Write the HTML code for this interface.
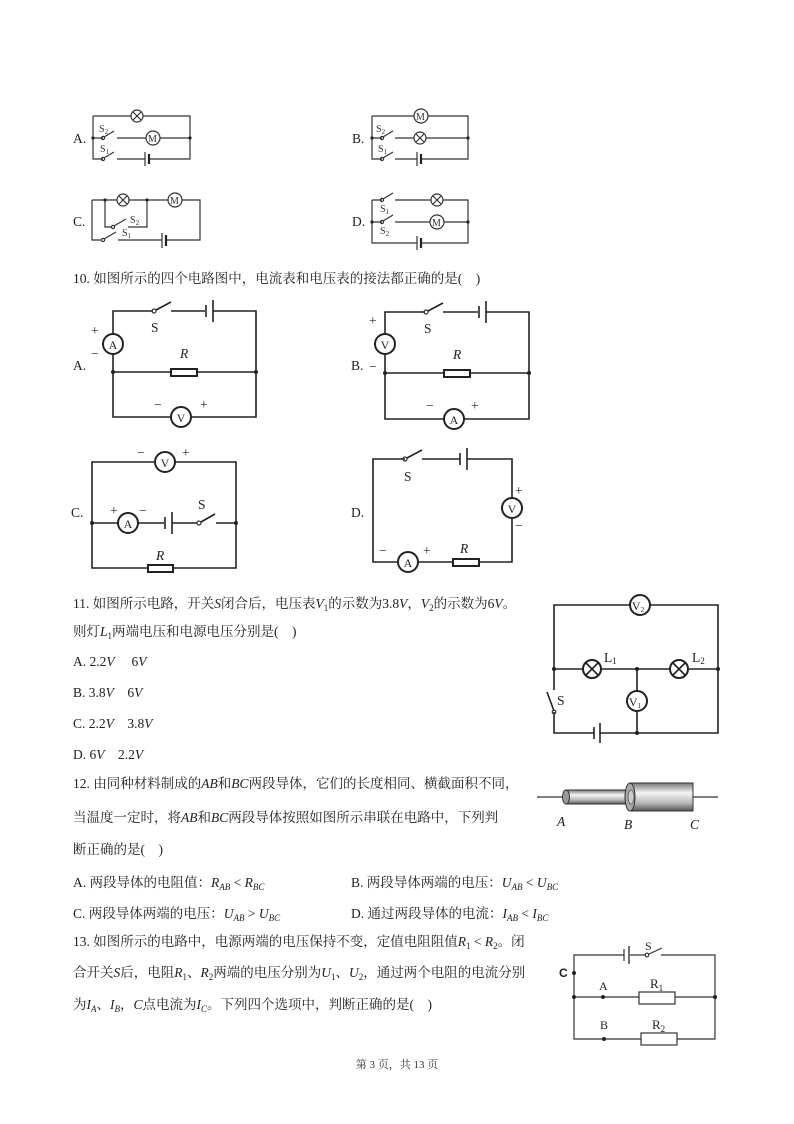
<!DOCTYPE html>
<html><head><meta charset="utf-8"><style>
html,body{margin:0;padding:0;background:#fff}
svg{display:block}
.t{font-family:"Liberation Serif","Noto Serif CJK SC","Noto Sans CJK SC",serif;font-size:13.5px;fill:#222;white-space:pre}
.i{font-style:italic}
.s{font-size:9px}
.w{fill:none;stroke:#333;stroke-width:1.2}
.wb{fill:none;stroke:#222;stroke-width:1.6}
.m{fill:#fff;stroke:#222;stroke-width:2}
.ml{font-family:"Liberation Serif",serif;font-size:12px;fill:#222;text-anchor:middle}
.sl{font-family:"Liberation Serif",serif;font-size:10px;fill:#333}
.d{fill:#222}
</style></head><body>
<svg width="794" height="1124" viewBox="0 0 794 1124" xmlns="http://www.w3.org/2000/svg" xml:space="preserve">
<!-- ===== Q9 options ===== -->
<g>
<text class="t" x="73" y="143">A.</text>
<path class="w" d="M93,116 H131 M143,116 H190 V159 H150 M93,116 V159 H103 M93,138 H103 M117,138 H146 M160,138 H190 M145,159 H117"/>
<line class="w" x1="145" y1="152" x2="145" y2="166"/><line x1="149" y1="154" x2="149" y2="164" stroke="#222" stroke-width="2.2"/>
<circle class="w" cx="137" cy="116" r="6"/><path class="w" d="M133,112 L141,120 M141,112 L133,120"/>
<circle class="w" cx="153" cy="138" r="7"/><text class="sl" x="148" y="142">M</text>
<circle class="w" cx="103" cy="138" r="1.6"/><line class="w" x1="104" y1="137" x2="114" y2="131"/>
<circle class="w" cx="103" cy="159" r="1.6"/><line class="w" x1="104" y1="158" x2="114" y2="152"/>
<text class="sl" x="99" y="132">S<tspan font-size="7" dy="2">2</tspan></text>
<text class="sl" x="100" y="152">S<tspan font-size="7" dy="2">1</tspan></text>
<circle class="d" cx="93" cy="138" r="1.6"/><circle class="d" cx="190" cy="138" r="1.6"/>
</g>
<g>
<text class="t" x="352" y="143">B.</text>
<path class="w" d="M372,116 H414 M428,116 H468 V159 H422 M372,116 V159 H382 M372,138 H382 M395,138 H414 M426,138 H468 M382,159 M395,159 H417"/>
<line class="w" x1="417" y1="152" x2="417" y2="166"/><line x1="421" y1="154" x2="421" y2="164" stroke="#222" stroke-width="2.2"/>
<circle class="w" cx="421" cy="116" r="7"/><text class="sl" x="416" y="120">M</text>
<circle class="w" cx="420" cy="138" r="6"/><path class="w" d="M416,134 L424,142 M424,134 L416,142"/>
<circle class="w" cx="382" cy="138" r="1.6"/><line class="w" x1="383" y1="137" x2="393" y2="131"/>
<circle class="w" cx="382" cy="159" r="1.6"/><line class="w" x1="383" y1="158" x2="393" y2="152"/>
<text class="sl" x="376" y="132">S<tspan font-size="7" dy="2">2</tspan></text>
<text class="sl" x="378" y="152">S<tspan font-size="7" dy="2">1</tspan></text>
<circle class="d" cx="372" cy="138" r="1.6"/><circle class="d" cx="468" cy="138" r="1.6"/>
</g>
<g>
<text class="t" x="73" y="226">C.</text>
<path class="w" d="M92,200 H117 M129,200 H168 M182,200 H200 V240 H167 M162,240 H118 M92,200 V240 H102 M105,200 V227 H112 M147,200 V227 H128"/>
<line class="w" x1="162" y1="233" x2="162" y2="248"/><line x1="166" y1="235" x2="166" y2="246" stroke="#222" stroke-width="2.2"/>
<circle class="w" cx="123" cy="200" r="6"/><path class="w" d="M119,196 L127,204 M127,196 L119,204"/>
<circle class="w" cx="175" cy="200" r="7"/><text class="sl" x="170" y="204">M</text>
<circle class="w" cx="113" cy="227" r="1.6"/><line class="w" x1="114" y1="226" x2="126" y2="219"/>
<circle class="w" cx="103" cy="240" r="1.6"/><line class="w" x1="104" y1="239" x2="116" y2="232"/>
<text class="sl" x="130" y="223">S<tspan font-size="7" dy="2">2</tspan></text>
<text class="sl" x="122" y="236">S<tspan font-size="7" dy="2">1</tspan></text>
<circle class="d" cx="105" cy="200" r="1.6"/><circle class="d" cx="147" cy="200" r="1.6"/>
</g>
<g>
<text class="t" x="352" y="226">D.</text>
<path class="w" d="M372,200 H382 M395,200 H431 M443,200 H468 V243 H422 M417,243 H372 V200 M372,222 H382 M395,222 H430 M444,222 H468"/>
<line class="w" x1="417" y1="236" x2="417" y2="250"/><line x1="421" y1="238" x2="421" y2="248" stroke="#222" stroke-width="2.2"/>
<circle class="w" cx="437" cy="200" r="6"/><path class="w" d="M433,196 L441,204 M441,196 L433,204"/>
<circle class="w" cx="437" cy="222" r="7"/><text class="sl" x="432" y="226">M</text>
<circle class="w" cx="382" cy="200" r="1.6"/><line class="w" x1="383" y1="199" x2="393" y2="193"/>
<circle class="w" cx="382" cy="222" r="1.6"/><line class="w" x1="383" y1="221" x2="393" y2="215"/>
<text class="sl" x="380" y="212">S<tspan font-size="7" dy="2">1</tspan></text>
<text class="sl" x="380" y="234">S<tspan font-size="7" dy="2">2</tspan></text>
<circle class="d" cx="372" cy="222" r="1.6"/><circle class="d" cx="468" cy="222" r="1.6"/>
</g>

<!-- ===== Q10 ===== -->
<text class="t" x="73" y="283">10. 如图所示的四个电路图中，电流表和电压表的接法都正确的是(    )</text>
<g>
<text class="t" x="73" y="370" font-size="12">A.</text>
<path class="wb" d="M113,334 V311 H153 M171,311 H205 M213,311 H256 V417 H192 M170,417 H113 V354 M113,372 H171 M197,372 H256"/>
<line class="wb" x1="206" y1="305" x2="206" y2="317"/><line x1="213" y1="300" x2="213" y2="322" stroke="#222" stroke-width="1.6"/>
<circle class="w" cx="154" cy="311" r="2"/><line class="wb" x1="156" y1="310" x2="171" y2="302"/>
<rect x="171" y="369" width="26" height="7" fill="#fff" stroke="#222" stroke-width="2"/>
<circle class="m" cx="113" cy="344" r="10"/><text class="ml" x="113" y="349">A</text>
<circle class="m" cx="181" cy="417" r="10"/><text class="ml" x="181" y="422">V</text>
<text class="t" x="91" y="335" font-size="15">+</text><text class="t" x="91" y="358" font-size="15">−</text>
<text class="t" x="151" y="332" font-size="16">S</text><text class="t i" x="180" y="358" font-size="17">R</text>
<text class="t" x="154" y="409" font-size="15">−</text><text class="t" x="200" y="409" font-size="15">+</text>
<circle class="d" cx="113" cy="372" r="2"/><circle class="d" cx="256" cy="372" r="2"/>
</g>
<g>
<text class="t" x="351" y="370" font-size="12">B.</text>
<path class="wb" d="M385,334 V312 H425 M443,312 H478 M486,312 H529 V419 H464 M444,419 H385 V354 M385,373 H444 M470,373 H529"/>
<line class="wb" x1="479" y1="306" x2="479" y2="318"/><line x1="486" y1="301" x2="486" y2="323" stroke="#222" stroke-width="1.6"/>
<circle class="w" cx="426" cy="312" r="2"/><line class="wb" x1="428" y1="311" x2="443" y2="303"/>
<rect x="444" y="370" width="26" height="7" fill="#fff" stroke="#222" stroke-width="2"/>
<circle class="m" cx="385" cy="344" r="10"/><text class="ml" x="385" y="349">V</text>
<circle class="m" cx="454" cy="419" r="10"/><text class="ml" x="454" y="424">A</text>
<text class="t" x="369" y="325" font-size="15">+</text><text class="t" x="369" y="371" font-size="15">−</text>
<text class="t" x="424" y="333" font-size="16">S</text><text class="t i" x="453" y="359" font-size="17">R</text>
<text class="t" x="426" y="410" font-size="15">−</text><text class="t" x="471" y="410" font-size="15">+</text>
<circle class="d" cx="385" cy="373" r="2"/><circle class="d" cx="529" cy="373" r="2"/>
</g>
<g>
<text class="t" x="71" y="517" font-size="12">C.</text>
<path class="wb" d="M155,462 H92 V568 H148 M173,568 H236 V462 H175 M92,523 H118 M138,523 H164 M172,523 H197 M216,523 H236"/>
<line class="wb" x1="165" y1="517" x2="165" y2="529"/><line x1="172" y1="512" x2="172" y2="534" stroke="#222" stroke-width="1.6"/>
<circle class="w" cx="199" cy="523" r="2"/><line class="wb" x1="201" y1="522" x2="215" y2="514"/>
<rect x="148" y="565" width="25" height="7" fill="#fff" stroke="#222" stroke-width="2"/>
<circle class="m" cx="165" cy="462" r="10"/><text class="ml" x="165" y="467">V</text>
<circle class="m" cx="128" cy="523" r="10"/><text class="ml" x="128" y="528">A</text>
<text class="t" x="137" y="457" font-size="15">−</text><text class="t" x="182" y="457" font-size="15">+</text>
<text class="t" x="110" y="515" font-size="15">+</text><text class="t" x="139" y="515" font-size="15">−</text>
<text class="t" x="198" y="509" font-size="16">S</text><text class="t i" x="156" y="560" font-size="17">R</text>
<circle class="d" cx="92" cy="523" r="2"/><circle class="d" cx="236" cy="523" r="2"/>
</g>
<g>
<text class="t" x="351" y="517" font-size="12">D.</text>
<path class="wb" d="M405,459 H373 V562 H398 M418,562 H453 M479,562 H512 V518 M512,498 V459 H467 M460,459 H422"/>
<line class="wb" x1="460" y1="453" x2="460" y2="465"/><line x1="467" y1="448" x2="467" y2="470" stroke="#222" stroke-width="1.6"/>
<circle class="w" cx="405" cy="459" r="2"/><line class="wb" x1="407" y1="458" x2="422" y2="450"/>
<rect x="453" y="559" width="26" height="7" fill="#fff" stroke="#222" stroke-width="2"/>
<circle class="m" cx="512" cy="508" r="10"/><text class="ml" x="512" y="513">V</text>
<circle class="m" cx="408" cy="562" r="10"/><text class="ml" x="408" y="567">A</text>
<text class="t" x="515" y="495" font-size="15">+</text><text class="t" x="515" y="530" font-size="15">−</text>
<text class="t" x="379" y="555" font-size="15">−</text><text class="t" x="423" y="555" font-size="15">+</text>
<text class="t" x="404" y="481" font-size="16">S</text><text class="t i" x="460" y="553" font-size="17">R</text>
</g>

<!-- ===== Q11 ===== -->
<text class="t" x="73" y="608" font-size="14">11. 如图所示电路，开关<tspan class="i">S</tspan>闭合后，电压表<tspan class="i">V</tspan><tspan class="s" dy="3">1</tspan><tspan dy="-3">的示数为3.8</tspan><tspan class="i">V</tspan>，<tspan class="i">V</tspan><tspan class="s" dy="3">2</tspan><tspan dy="-3">的示数为6</tspan><tspan class="i">V</tspan>。</text>
<text class="t" x="73" y="636">则灯<tspan class="i">L</tspan><tspan class="s" dy="3">1</tspan><tspan dy="-3">两端电压和电源电压分别是(    )</tspan></text>
<text class="t" x="73" y="666">A. 2.2<tspan class="i">V</tspan>     6<tspan class="i">V</tspan></text>
<text class="t" x="73" y="697">B. 3.8<tspan class="i">V</tspan>    6<tspan class="i">V</tspan></text>
<text class="t" x="73" y="728">C. 2.2<tspan class="i">V</tspan>    3.8<tspan class="i">V</tspan></text>
<text class="t" x="73" y="759">D. 6<tspan class="i">V</tspan>    2.2<tspan class="i">V</tspan></text>
<g>
<path class="wb" d="M630,605 H554 V669 H582 M602,669 H669 M689,669 H718 V605 H650 M718,669 V733 H600 M594,733 H554 V712 M554,690 V669 M637,669 V691 M637,711 V733"/>
<line class="wb" x1="554" y1="711" x2="547" y2="692"/><circle class="w" cx="554" cy="712" r="1.8"/>
<line class="wb" x1="594" y1="727" x2="594" y2="739"/><line x1="600" y1="723" x2="600" y2="743" stroke="#222" stroke-width="1.6"/>
<circle class="m" cx="640" cy="605" r="10"/><text class="ml" x="638" y="610">V<tspan font-size="7" dy="2">2</tspan></text>
<circle class="m" cx="637" cy="701" r="10"/><text class="ml" x="635" y="706">V<tspan font-size="7" dy="2">1</tspan></text>
<circle class="m" cx="592" cy="669" r="9"/><path class="wb" d="M586,663 L598,675 M598,663 L586,675"/>
<circle class="m" cx="679" cy="669" r="9"/><path class="wb" d="M673,663 L685,675 M685,663 L673,675"/>
<text class="t" x="604" y="662" font-size="14">L<tspan font-size="9" dy="2">1</tspan></text>
<text class="t" x="692" y="662" font-size="14">L<tspan font-size="9" dy="2">2</tspan></text>
<text class="t" x="557" y="705" font-size="14">S</text>
<circle class="d" cx="554" cy="669" r="2"/><circle class="d" cx="637" cy="669" r="2"/><circle class="d" cx="718" cy="669" r="2"/><circle class="d" cx="637" cy="733" r="2"/>
</g>

<!-- ===== Q12 ===== -->
<text class="t" x="73" y="788">12. 由同种材料制成的<tspan class="i">AB</tspan>和<tspan class="i">BC</tspan>两段导体，它们的长度相同、横截面积不同，</text>
<text class="t" x="73" y="822">当温度一定时，将<tspan class="i">AB</tspan>和<tspan class="i">BC</tspan>两段导体按照如图所示串联在电路中，下列判</text>
<text class="t" x="73" y="854">断正确的是(    )</text>
<text class="t" x="73" y="887">A. 两段导体的电阻值：<tspan class="i">R</tspan><tspan class="s i" dy="3">AB</tspan><tspan dy="-3"> &lt; </tspan><tspan class="i">R</tspan><tspan class="s i" dy="3">BC</tspan></text>
<text class="t" x="351" y="887">B. 两段导体两端的电压：<tspan class="i">U</tspan><tspan class="s i" dy="3">AB</tspan><tspan dy="-3"> &lt; </tspan><tspan class="i">U</tspan><tspan class="s i" dy="3">BC</tspan></text>
<text class="t" x="73" y="918">C. 两段导体两端的电压：<tspan class="i">U</tspan><tspan class="s i" dy="3">AB</tspan><tspan dy="-3"> &gt; </tspan><tspan class="i">U</tspan><tspan class="s i" dy="3">BC</tspan></text>
<text class="t" x="351" y="918">D. 通过两段导体的电流：<tspan class="i">I</tspan><tspan class="s i" dy="3">AB</tspan><tspan dy="-3"> &lt; </tspan><tspan class="i">I</tspan><tspan class="s i" dy="3">BC</tspan></text>
<defs>
<linearGradient id="cy" x1="0" y1="0" x2="0" y2="1"><stop offset="0" stop-color="#777"/><stop offset=".35" stop-color="#f4f4f4"/><stop offset=".7" stop-color="#bbb"/><stop offset="1" stop-color="#555"/></linearGradient>
</defs>
<g>
<line x1="537" y1="797" x2="718" y2="797" stroke="#333" stroke-width="1.2"/>
<rect x="566" y="790" width="64" height="14" fill="url(#cy)" stroke="#333" stroke-width="1"/>
<ellipse cx="566" cy="797" rx="3.5" ry="7" fill="#999" stroke="#333" stroke-width="1"/>
<rect x="630" y="783" width="63" height="28" fill="url(#cy)" stroke="#333" stroke-width="1"/>
<ellipse cx="630" cy="797" rx="5" ry="14" fill="#aaa" stroke="#333" stroke-width="1"/>
<ellipse cx="631" cy="797" rx="3" ry="7" fill="#ccc" stroke="#555" stroke-width=".8"/>
<text class="t i" x="557" y="826" font-size="15">A</text>
<text class="t i" x="624" y="829" font-size="15">B</text>
<text class="t i" x="690" y="829" font-size="15">C</text>
</g>

<!-- ===== Q13 ===== -->
<text class="t" x="73" y="946">13. 如图所示的电路中，电源两端的电压保持不变，定值电阻阻值<tspan class="i">R</tspan><tspan class="s" dy="3">1</tspan><tspan dy="-3"> &lt; </tspan><tspan class="i">R</tspan><tspan class="s" dy="3">2</tspan><tspan dy="-3">。闭</tspan></text>
<text class="t" x="73" y="977">合开关<tspan class="i">S</tspan>后，电阻<tspan class="i">R</tspan><tspan class="s" dy="3">1</tspan><tspan dy="-3">、</tspan><tspan class="i">R</tspan><tspan class="s" dy="3">2</tspan><tspan dy="-3">两端的电压分别为</tspan><tspan class="i">U</tspan><tspan class="s" dy="3">1</tspan><tspan dy="-3">、</tspan><tspan class="i">U</tspan><tspan class="s" dy="3">2</tspan><tspan dy="-3">，通过两个电阻的电流分别</tspan></text>
<text class="t" x="73" y="1009">为<tspan class="i">I</tspan><tspan class="s i" dy="3">A</tspan><tspan dy="-3">、</tspan><tspan class="i">I</tspan><tspan class="s i" dy="3">B</tspan><tspan dy="-3">，</tspan><tspan class="i">C</tspan>点电流为<tspan class="i">I</tspan><tspan class="s i" dy="3">C</tspan><tspan dy="-3">。下列四个选项中，判断正确的是(    )</tspan></text>
<g>
<path class="w" d="M624,955 H574 V1039 H641 M677,1039 H715 V955 H661 M645,955 H630 M574,997 H639 M675,997 H715"/>
<line class="w" x1="624" y1="949" x2="624" y2="961"/><line x1="629" y1="946" x2="629" y2="964" stroke="#333" stroke-width="1.4"/>
<circle class="w" cx="647" cy="955" r="1.8"/><line class="w" x1="649" y1="954" x2="662" y2="948"/>
<rect x="639" y="992" width="36" height="12" fill="#fff" stroke="#333" stroke-width="1.2"/>
<rect x="641" y="1033" width="36" height="12" fill="#fff" stroke="#333" stroke-width="1.2"/>
<text x="645" y="950" font-family="Liberation Serif,serif" font-size="12" fill="#222">S</text>
<text x="650" y="988" font-family="Liberation Serif,serif" font-size="13" fill="#222">R<tspan font-size="9" dy="3">1</tspan></text>
<text x="652" y="1029" font-family="Liberation Serif,serif" font-size="13" fill="#222">R<tspan font-size="9" dy="3">2</tspan></text>
<text x="599" y="990" font-family="Liberation Serif,serif" font-size="12" fill="#222">A</text>
<text x="600" y="1029" font-family="Liberation Serif,serif" font-size="12" fill="#222">B</text>
<text x="559" y="977" font-family="Liberation Sans,sans-serif" font-size="12" font-weight="bold" fill="#222">C</text>
<circle class="d" cx="574" cy="973" r="2"/><circle class="d" cx="574" cy="997" r="2"/><circle class="d" cx="603" cy="997" r="2"/><circle class="d" cx="715" cy="997" r="2"/><circle class="d" cx="604" cy="1039" r="2"/>
</g>

<text x="397" y="1068" text-anchor="middle" font-family="Liberation Serif,'Noto Serif CJK SC',serif" font-size="11" fill="#333">第 3 页，共 13 页</text>
</svg>
</body></html>
